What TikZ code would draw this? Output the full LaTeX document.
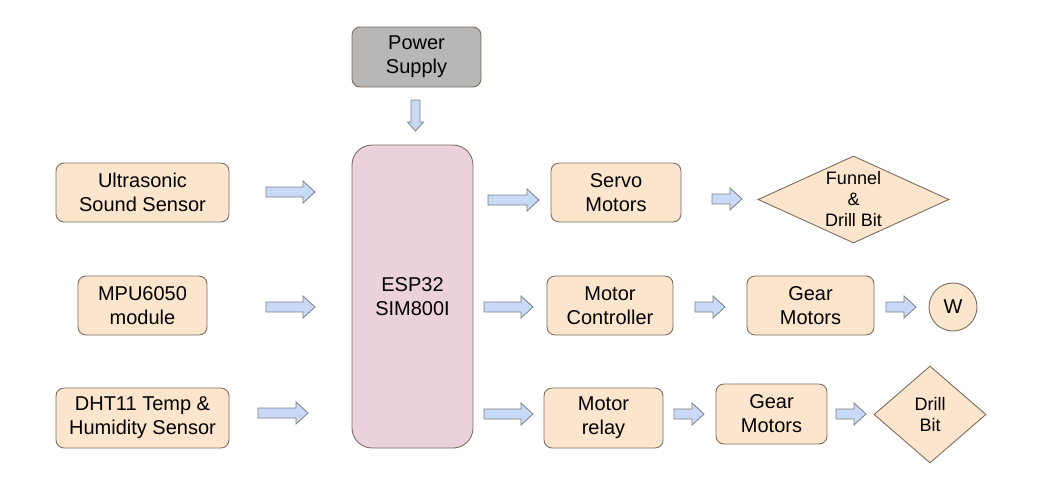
\documentclass[tikz,border=0pt]{standalone}
\usepackage{fontspec}
\setmainfont{Liberation Sans}
\usetikzlibrary{shapes.geometric}
\definecolor{boxfill}{HTML}{FCE5CD}
\definecolor{boxline}{HTML}{7A6D60}
\definecolor{espfill}{HTML}{EAD1DC}
\definecolor{pwrfill}{HTML}{B7B7B7}
\definecolor{arrfill}{HTML}{C9DAF8}
\definecolor{arrline}{HTML}{7F7F7F}
\tikzset{
  box/.style={draw=boxline, line width=0.9pt, fill=boxfill, rounded corners=8pt, inner sep=0pt, align=center,
    font=\fontsize{20}{24}\selectfont},
  dia/.style={draw=boxline, line width=0.9pt, fill=boxfill, diamond, inner sep=0pt},
  diatext/.style={align=center, inner sep=0pt, font=\fontsize{18}{21}\selectfont},
  arrowbody/.style={draw=arrline, line width=0.8pt, fill=arrfill, line join=miter},
  rarr/.pic={\path[arrowbody] (0,-5) -- (#1-12,-5) -- (#1-12,-11) -- (#1,0) -- (#1-12,11) -- (#1-12,5) -- (0,5) -- cycle;},
  darr/.pic={\path[arrowbody] (-4.5,0) -- (-4.5,#1-9) -- (-8,#1-9) -- (0,#1) -- (8,#1-9) -- (4.5,#1-9) -- (4.5,0) -- cycle;}
}
\begin{document}
\begin{tikzpicture}[x=1pt,y=-1pt]
\useasboundingbox (0,0) rectangle (1048,491);
% inputs
\node[box, minimum width=173pt, minimum height=59pt] (ultra) at (142.5,192.5) {Ultrasonic\\Sound Sensor};
\node[box, minimum width=129pt, minimum height=59pt] (mpu) at (142.5,305.5) {MPU6050\\module};
\node[box, minimum width=173pt, minimum height=60pt] (dht) at (142.5,418) {DHT11 Temp \&\\Humidity Sensor};
% power + controller
\node[box, fill=pwrfill, minimum width=129pt, minimum height=60pt] (power) at (416.5,57) {Power\\Supply};
\node[box, fill=espfill, rounded corners=20pt, minimum width=121pt, minimum height=303pt] (esp) at (412.5,296.5) {ESP32\\SIM800I};
% outputs
\node[box, minimum width=130pt, minimum height=59pt] (servo) at (616,192.5) {Servo\\Motors};
\node[box, minimum width=126pt, minimum height=59pt] (mc) at (610,305.5) {Motor\\Controller};
\node[box, minimum width=127pt, minimum height=59pt] (gear1) at (810.5,305.5) {Gear\\Motors};
\node[box, circle, minimum size=48pt] (w) at (953,307) {W};
\node[box, minimum width=119pt, minimum height=60pt] (relay) at (603.5,418) {Motor\\relay};
\node[box, minimum width=111pt, minimum height=60pt] (gear2) at (771.5,414) {Gear\\Motors};
\node[dia, minimum width=191pt, minimum height=87pt] (funnel) at (853.5,199.5) {};
\node[diatext] (funneltext) at (funnel.center) {Funnel\\\&\\Drill Bit};
\node[dia, minimum width=112pt, minimum height=97pt] (drill) at (930,414.5) {};
\node[diatext] (drilltext) at (drill.center) {Drill\\Bit};
% block arrows
\pic at (266,192) {rarr=49};
\pic at (266,307) {rarr=49};
\pic at (258,413) {rarr=50};
\pic at (415.5,100) {darr=31};
\pic at (488,200) {rarr=51};
\pic at (484,307) {rarr=49};
\pic at (484,414) {rarr=49};
\pic at (712,199) {rarr=30};
\pic at (695,307) {rarr=30};
\pic at (886,307) {rarr=30};
\pic at (674,414) {rarr=30};
\pic at (836,414) {rarr=30};
\end{tikzpicture}
\end{document}
